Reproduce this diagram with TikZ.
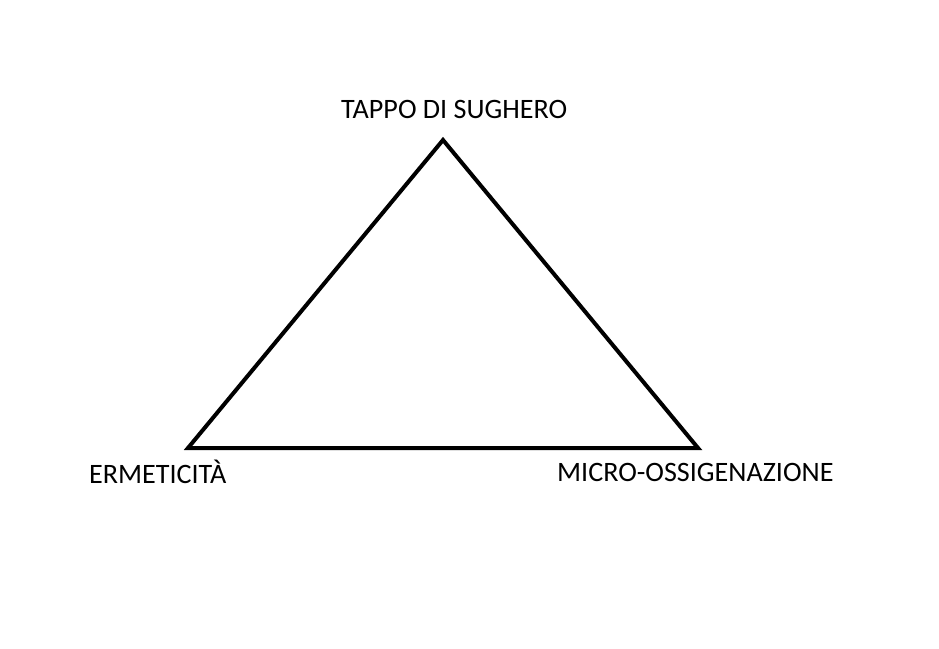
\documentclass[tikz,border=0pt]{standalone}
\usepackage{fontspec}
\setmainfont{Carlito}
\begin{document}
\begin{tikzpicture}[x=1pt,y=-1pt,
  lbl/.style={inner sep=0pt,anchor=base west,font=\fontsize{28.1}{33}\selectfont},
  edge/.style={line width=4pt,line join=miter}]
\useasboundingbox (0,0) rectangle (939,648);
\coordinate (top) at (443,140);
\coordinate (left) at (188,448);
\coordinate (right) at (698,448);
\draw[edge] (top) -- (right) -- (left) -- cycle;
\node[lbl] (t1) at (341,118) {TAPPO DI SUGHERO};
\node[lbl] (t2) at (89,483) {ERMETICITÀ};
\node[lbl] (t3) at (557,481) {MICRO-OSSIGENAZIONE};
\end{tikzpicture}
\end{document}
